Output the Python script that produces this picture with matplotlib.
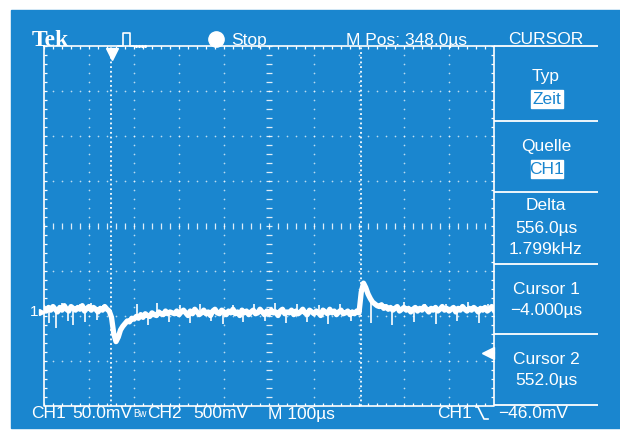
import numpy as np
import matplotlib
matplotlib.use('Agg')
import matplotlib.pyplot as plt
from matplotlib.patches import Rectangle
from matplotlib import font_manager as fm

# ---------------- data ----------------
time_per_div_us = 100
volts_per_div_mv = 50
screen_start_us = -152          # M Pos 348 us at screen centre
sample_us = 5
ch1_ground_div = -1.91          # ground marker "1" position (divisions from centre)
trigger_level_mv = -46.0
cursor_times_us = [-4.0, 552.0]
trigger_time_us = 0.0

ch1_trace_mv = [
    # before cursor 1
    4, 1, 5, 2, 6, 3, 0, 5, 2, 7,
    3, 1, 6, 4, 2, 5, 3, 7, 1, 4,
    6, 2, 5, 3, 0, 4, 2, 6, 3, 1,
    # dip at cursor 1
    -6, -24, -33, -28, -20, -16, -13, -10, -11, -7,
    -8, -5, -7, -3, -6, -2, -4, -5, -1, -3,
    -4, 0, -2, -3, 1, -2, 0, -1,
    # flat part
    -2, 1, -3, 0, 2, -1, -4, 1, -2, 3,
    0, -3, -1, 2, -2, 0, -4, 1, 3, -1,
    -2, 2, 0, -3, 1, -1, 3, -2, 0, -4,
    2, -1, 1, -3, 0, 2, -2, -1, 3, 0,
    -3, 1, -2, 2, -1, 0, -4, 1, 3, -2,
    0, -1, 2, -3, 1, -2, 0, 3, -1, -3,
    2, 0, -2, 1, -1, -4, 2, 0, -2, 3,
    -1, 1, -3, 0, 2, -2, -1, 1, -3, 0,
    -2, 1, -1,
    # step at cursor 2 and decay
    22, 32, 27, 20, 15, 11, 9, 7, 6, 8,
    4, 6, 3, 5, 2, 4, 6, 1, 3, 5,
    2, 4, 0, 3, 5, 1, 4, 2, 6, 3,
    0, 4, 2, 5, 1, 3, 6, 2, 4, 1,
    3, 5, 0, 4, 2, 6, 3, 1, 4, 2,
    5, 3, 0, 4, 2, 5, 1, 3, 6, 2,
]
spike_times_us = [-140, -125, -112, -98, -87, -72, -60, -48, -35, -20,
                  30, 55, 78, 100, 125, 150, 172, 195, 220, 245, 268, 290,
                  315, 340, 362, 385, 410, 432, 458, 480, 505, 530,
                  575, 600, 622, 648, 670, 695, 718, 742, 765, 790, 815, 835]
spike_mv = [-12, -18, 10, -10, -15, 9, -11, 10, -9, 8,
            -12, 9, -14, 10, -11, 8, -12, 9, -10, -13, 8, -11,
            9, -10, 10, -12, 9, -11, 8, -13, 9, -10,
            -12, 10, -14, 11, -11, 9, -13, 9, -10, 11, -12, 9]

top_labels = ["Stop", "M Pos: 348.0\u00b5s", "CURSOR"]
menu_labels = ["Typ", "Quelle", "Delta", "556.0\u00b5s", "1.799kHz",
               "Cursor 1", "\u22124.000\u00b5s", "Cursor 2", "552.0\u00b5s"]
menu_boxes = ["Zeit", "CH1"]
bottom_labels = ["CH1", "50.0mV", "Bw", "CH2", "500mV", "M 100\u00b5s",
                 "CH1", "\u221246.0mV"]

# ---------------- fonts ----------------
def pick(*names):
    for n in names:
        try:
            fm.findfont(fm.FontProperties(family=n), fallback_to_default=False)
            return n
        except Exception:
            pass
    return 'DejaVu Sans'

NARROW = pick('Liberation Sans Narrow', 'DejaVu Sans Condensed', 'Liberation Sans')
SERIF = pick('Liberation Serif', 'DejaVu Serif')

BLUE = '#1a86cf'
WHITE = 'white'
FS = 12.5

W, H = 620, 432
fig = plt.figure(figsize=(W / 100, H / 100), dpi=100)
fig.patch.set_facecolor('white')

deco = fig.add_axes([0, 0, 1, 1])
deco.set_xlim(0, W)
deco.set_ylim(H, 0)
deco.axis('off')
deco.add_patch(Rectangle((11, 10), W - 11, 418, color=BLUE, zorder=0))

# graticule axes
L, T, R, B = 44, 46, 494, 406
ax = fig.add_axes([L / W, 1 - B / H, (R - L) / W, (B - T) / H])
t0 = screen_start_us
t1 = t0 + 10 * time_per_div_us
ax.set_xlim(t0, t1)
ax.set_ylim(-4, 4)
ax.patch.set_alpha(0)
ax.axis('off')

tick_y = 3 / 45.0
tick_x = 3 / 45.0 * time_per_div_us
minor_x = np.arange(t0, t1 + 0.1, time_per_div_us / 5)
minor_y = np.arange(-4, 4.01, 0.2)

# border
ax.plot([t0, t1, t1, t0, t0], [4, 4, -4, -4, 4], color=WHITE, lw=1.2, clip_on=False)
ax.vlines(minor_x, 4 - tick_y, 4, color=WHITE, lw=0.9)
ax.vlines(minor_x, -4, -4 + tick_y, color=WHITE, lw=0.9)
ax.hlines(minor_y, t0, t0 + tick_x, color=WHITE, lw=0.9)
ax.hlines(minor_y, t1 - tick_x, t1, color=WHITE, lw=0.9)
# centre cross ticks
xc = t0 + 5 * time_per_div_us
ax.vlines(minor_x, -tick_y, tick_y, color=WHITE, lw=0.9, alpha=0.85)
ax.hlines(minor_y, xc - tick_x, xc + tick_x, color=WHITE, lw=0.9, alpha=0.85)
# dotted grid
for k in range(1, 10):
    if k == 5:
        continue
    xk = t0 + k * time_per_div_us
    ax.scatter(np.full(minor_y.size, xk), minor_y, s=1.5, color=WHITE, alpha=0.7, lw=0)
for j in range(-3, 4):
    if j == 0:
        continue
    ax.scatter(minor_x, np.full(minor_x.size, j), s=1.5, color=WHITE, alpha=0.7, lw=0)

# cursors
ax.vlines(cursor_times_us, -4, 4, color=WHITE, lw=1.3, linestyles=(0, (1, 1.6)))

# trace
tr = np.asarray(ch1_trace_mv, float)
tt = t0 + np.arange(tr.size) * sample_us
ax.plot(tt, ch1_ground_div + tr / volts_per_div_mv, color=WHITE, lw=3.8,
        solid_joinstyle='round', zorder=5)
sp = np.asarray(spike_mv, float)
base = np.interp(spike_times_us, tt, tr)
ax.vlines(spike_times_us, ch1_ground_div + base / volts_per_div_mv,
          ch1_ground_div + sp / volts_per_div_mv, color=WHITE, lw=1.2, zorder=5)

# markers
ax.plot([t0 - 5], [ch1_ground_div], marker='>', ms=5, color=WHITE, clip_on=False)
ax.text(t0 - 13, ch1_ground_div, "1", color=WHITE, fontsize=11, family=NARROW,
        ha='right', va='center')
ax.plot([trigger_time_us], [4 - 8 / 45.0], marker='v', ms=9, color=WHITE, clip_on=False)
trig_y = ch1_ground_div + trigger_level_mv / volts_per_div_mv
ax.plot([t1 - 10, t1], [trig_y, trig_y], color=WHITE, lw=1.5, clip_on=False)
ax.plot([t1 - 14], [trig_y], marker='<', ms=8, color=WHITE, clip_on=False)

# ---------------- decorations / text ----------------
deco.text(32, 41, "Tek", color=WHITE, fontsize=17, family=SERIF, weight='bold',
          ha='left', va='center')
deco.plot([118, 123, 123, 130, 130, 134], [46, 46, 33, 33, 46, 46], color=WHITE, lw=1.2)
deco.plot([136, 139, 142, 145], [46, 46, 46, 46], ls='none', marker='.', ms=2.5, color=WHITE)
deco.plot([216], [39], marker='o', ms=11, color=WHITE, mec=WHITE)
deco.text(231, 40, top_labels[0], color=WHITE, fontsize=FS, family=NARROW, ha='left', va='center')
deco.text(346, 40, top_labels[1], color=WHITE, fontsize=FS, family=NARROW, ha='left', va='center')
deco.text(546, 40, top_labels[2], color=WHITE, fontsize=FS, family=NARROW, ha='center', va='center')

# right menu
deco.hlines([46, 121, 192, 264, 334, 405], 494, 598, color=WHITE, lw=1.3)
menu_y = [77, 147, 206, 228, 249, 290, 311, 360, 381]
for lab, y in zip(menu_labels, menu_y):
    deco.text(546, y, lab, color=WHITE, fontsize=FS, family=NARROW, ha='center', va='center')
for lab, (y0, y1) in zip(menu_boxes, [(90, 108), (160, 178)]):
    deco.add_patch(Rectangle((531, y0), 32, y1 - y0, color=WHITE, zorder=3))
    deco.text(547, (y0 + y1) / 2 + 0.5, lab, color=BLUE, fontsize=FS, family=NARROW,
              ha='center', va='center', zorder=4)

# bottom row
bx = [31, 72, 133, 147, 193, 268, 437, 498]
for lab, x in zip(bottom_labels, bx):
    fs = 7 if lab == "Bw" else FS
    deco.text(x, 414, lab, color=WHITE, fontsize=fs, family=NARROW, ha='left', va='center')
deco.plot([476, 478, 484, 488], [407, 407, 419, 419], color=WHITE, lw=1.2)

fig.savefig('out.png', dpi=100, facecolor='white')
